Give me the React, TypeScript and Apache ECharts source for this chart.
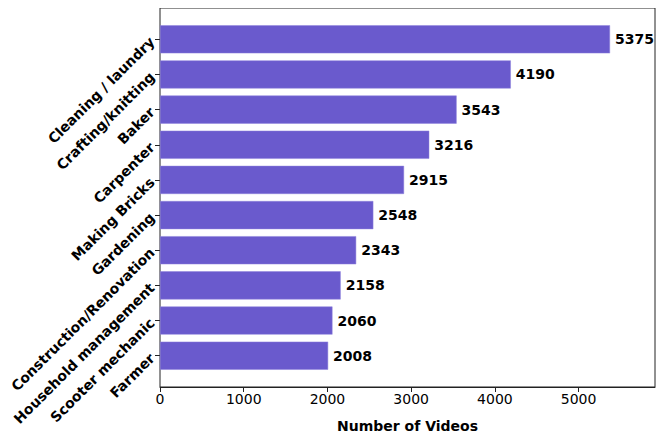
import React, { useEffect, useRef } from "react";
import * as echarts from "echarts";

const categories = [
  "Cleaning / laundry",
  "Crafting/knitting",
  "Baker",
  "Carpenter",
  "Making Bricks",
  "Gardening",
  "Construction/Renovation",
  "Household management",
  "Scooter mechanic",
  "Farmer",
];
const videoCounts = [5375, 4190, 3543, 3216, 2915, 2548, 2343, 2158, 2060, 2008];
const xTicks = [0, 1000, 2000, 3000, 4000, 5000];
const xMax = 5912.5;

const FONT = "DejaVu Sans";

export default function App() {
  const ref = useRef<HTMLDivElement>(null);
  useEffect(() => {
    if (!ref.current) return;
    const chart = echarts.init(ref.current, null, { renderer: "svg" });
    const plotLeft = 160;
    const plotTop = 8;
    const plotW = 495;
    const plotH = 379;
    const n = categories.length;
    const span = n - 1 + 0.8 + 0.98; // matplotlib data limits incl. margins
    const band = plotH / span;
    const catTop = plotTop + band * 0.39;
    const catH = band * n;
    chart.setOption({
      animation: false,
      backgroundColor: "#ffffff",
      textStyle: { fontFamily: FONT },
      grid: [
        {
          left: plotLeft,
          top: plotTop,
          width: plotW,
          height: plotH,
          show: true,
          borderColor: "#222",
          borderWidth: 1,
          backgroundColor: "transparent",
        },
        {
          left: plotLeft,
          top: catTop,
          width: plotW,
          height: catH,
        },
      ],
      xAxis: [
        {
          gridIndex: 0,
          type: "value",
          min: 0,
          max: xMax,
          interval: 1000,
          splitLine: { show: false },
          axisLine: { show: true, lineStyle: { color: "#222", width: 1 } },
          axisTick: { show: true, length: 5, lineStyle: { color: "#222" } },
          axisLabel: {
            margin: 5,
            color: "#000",
            fontFamily: FONT,
            fontSize: 14,
            showMaxLabel: false,
            formatter: (v: number) => (xTicks.includes(v) ? String(v) : ""),
          },
          name: "Number of Videos",
          nameLocation: "middle",
          nameGap: 32,
          nameTextStyle: {
            fontFamily: FONT,
            fontSize: 14,
            fontWeight: "bold",
            color: "#000",
          },
        },
        {
          gridIndex: 1,
          type: "value",
          min: 0,
          max: xMax,
          show: false,
        },
      ],
      yAxis: [
        {
          gridIndex: 0,
          type: "value",
          min: 0,
          max: 1,
          show: false,
        },
        {
          gridIndex: 1,
          type: "category",
          data: categories,
          inverse: true,
          axisLine: { show: false },
          axisTick: {
            show: true,
            alignWithLabel: true,
            length: 5,
            lineStyle: { color: "#222" },
          },
          axisLabel: {
            rotate: 45,
            margin: 8,
            color: "#000",
            fontFamily: FONT,
            fontSize: 14,
            fontWeight: "bold",
            interval: 0,
          },
        },
      ],
      series: [
        {
          type: "bar",
          xAxisIndex: 1,
          yAxisIndex: 1,
          data: videoCounts,
          barWidth: "80%",
          itemStyle: { color: "#6a5acd", borderColor: "#8f83dc", borderWidth: 0.5 },
          label: {
            show: true,
            position: "right",
            distance: 5,
            color: "#000",
            fontFamily: FONT,
            fontSize: 14,
            fontWeight: "bold",
          },
        },
      ],
    });
    return () => chart.dispose();
  }, []);
  return <div ref={ref} style={{ width: 664, height: 443, margin: -8 }} />;
}
